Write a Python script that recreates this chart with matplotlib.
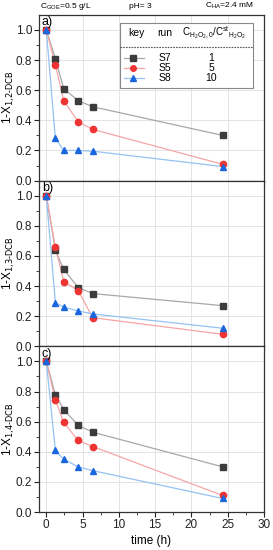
import matplotlib
matplotlib.use("Agg")
import matplotlib.pyplot as plt
from matplotlib.lines import Line2D
from matplotlib.patches import Rectangle

plt.rcParams['font.family'] = ['Liberation Sans', 'DejaVu Sans']

time = [0, 1.25, 2.4, 4.4, 6.4, 24.3]
runs = ["S7", "S5", "S8"]
ratios = ["1", "5", "10"]

a_S7 = [1.0, 0.81, 0.61, 0.53, 0.49, 0.30]
a_S5 = [1.0, 0.77, 0.53, 0.39, 0.34, 0.108]
a_S8 = [1.0, 0.28, 0.20, 0.20, 0.195, 0.093]

b_S7 = [1.0, 0.64, 0.51, 0.39, 0.35, 0.27]
b_S5 = [1.0, 0.66, 0.43, 0.37, 0.19, 0.08]
b_S8 = [1.0, 0.29, 0.26, 0.235, 0.215, 0.12]

c_S7 = [1.0, 0.78, 0.68, 0.575, 0.53, 0.30]
c_S5 = [1.0, 0.745, 0.595, 0.475, 0.435, 0.11]
c_S8 = [1.0, 0.41, 0.35, 0.30, 0.275, 0.09]

panel_labels = ["a)", "b)", "c)"]
ylabels = ["1-X$_{\\text{1,2-DCB}}$", "1-X$_{\\text{1,3-DCB}}$", "1-X$_{\\text{1,4-DCB}}$"]
panel_series = [[a_S7, a_S5, a_S8], [b_S7, b_S5, b_S8], [c_S7, c_S5, c_S8]]

styles = [dict(marker='s', color='#3c3c3c', lc='#a8a8a8'),
          dict(marker='o', color='#ee3333', lc='#f5a5a5'),
          dict(marker='^', color='#1a66dd', lc='#95c2f2')]

fig = plt.figure(figsize=(2.73, 5.50), dpi=100)
left, right, bottom, top = 0.143, 0.967, 0.069, 0.973
h = (top - bottom) / 3
axes = []
for i, series in enumerate(panel_series):
    ax = fig.add_axes([left, top - (i + 1) * h, right - left, h])
    axes.append(ax)
    for s, st in zip(series, styles):
        ax.plot(time, s, color=st['lc'], lw=0.9, zorder=2)
        ax.plot(time, s, ls='none', marker=st['marker'], color=st['color'],
                markersize=4.5, zorder=3)
    ax.set_xlim(-1, 30)
    ax.set_ylim(0, 1.1)
    ax.set_yticks([0, 0.2, 0.4, 0.6, 0.8, 1.0])
    ax.set_yticks([0.1, 0.3, 0.5, 0.7, 0.9], minor=True)
    ax.set_xticks([0, 5, 10, 15, 20, 25, 30])
    ax.set_xticks([2.5, 7.5, 12.5, 17.5, 22.5, 27.5], minor=True)
    ax.grid(True, which='major', color='#e4e4e4', lw=0.7, zorder=0)
    ax.set_axisbelow(True)
    ax.tick_params(which='both', direction='out', labelsize=8.5, colors='#222222',
                   top=False, right=False, pad=1.5)
    ax.tick_params(which='major', length=3.5, width=0.8)
    ax.tick_params(which='minor', length=2, width=0.6)
    for sp in ax.spines.values():
        sp.set_color('#333333')
        sp.set_linewidth(0.9)
    ax.yaxis.set_major_formatter(matplotlib.ticker.FormatStrFormatter('%.1f'))
    ax.set_ylabel(ylabels[i], fontsize=8.5)
    ax.yaxis.set_label_coords(-0.1, 0.5)
    ax.text(-0.6, 1.05, panel_labels[i], fontsize=9, ha='left', va='center')
    if i < 2:
        ax.tick_params(labelbottom=False)

axes[2].set_xlabel("time (h)", fontsize=8.5, labelpad=3)

# Legend table in panel a
bx0, bx1 = 120 / 273, 253 / 273
by0, by1 = 1 - 88 / 550, 1 - 23 / 550
fig.patches.append(Rectangle((bx0, by0), bx1 - bx0, by1 - by0, transform=fig.transFigure,
                             facecolor='white', edgecolor='#888888', lw=0.8, zorder=5))
hy = 1 - 33 / 550
fig.text(136 / 273, hy, "key", fontsize=7.5, ha='center', va='center', zorder=6)
fig.text(165 / 273, hy, "run", fontsize=7.5, ha='center', va='center', zorder=6)
fig.text(214 / 273, hy, r"C$_{\mathregular{H_2O_2,0}}$/C$^{\mathregular{st}}$$_{\mathregular{H_2O_2}}$",
         fontsize=7, ha='center', va='center', zorder=6)
fig.lines.append(Line2D([bx0, bx1], [1 - 47 / 550] * 2, transform=fig.transFigure,
                        color='#555555', lw=0.8, ls=(0, (1.5, 1)), zorder=6))
rows_y = [1 - 58 / 550, 1 - 68 / 550, 1 - 78 / 550]
for ry, st, run, r in zip(rows_y, styles, runs, ratios):
    fig.lines.append(Line2D([124 / 273, 144 / 273], [ry, ry], transform=fig.transFigure,
                            color=st['lc'], lw=0.9, zorder=6))
    fig.lines.append(Line2D([133 / 273], [ry], transform=fig.transFigure, ls='none',
                            marker=st['marker'], color=st['color'], markersize=4, zorder=7))
    fig.text(165 / 273, ry, run, fontsize=7.5, ha='center', va='center', zorder=6)
    fig.text(211 / 273, ry, r, fontsize=7.5, ha='center', va='center', zorder=6)

# Header annotations
fig.text(40 / 273, 1 - 6 / 550, r"C$_{\mathregular{GOE}}$=0.5 g/L", fontsize=6, ha='left', va='center')
fig.text(140 / 273, 1 - 6 / 550, "pH= 3", fontsize=6, ha='center', va='center')
fig.text(205 / 273, 1 - 6 / 550, r"C$_{\mathregular{HA}}$=2.4 mM", fontsize=6, ha='left', va='center')

fig.savefig("out.png", dpi=100)
